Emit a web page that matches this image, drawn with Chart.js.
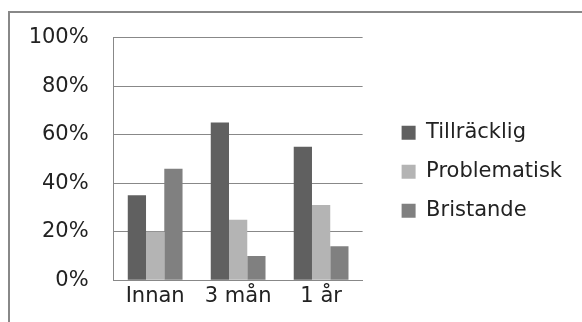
<!DOCTYPE html>
<html>
<head>
<meta charset="utf-8">
<script src="https://cdn.jsdelivr.net/npm/chart.js@4/dist/chart.umd.min.js"></script>
<style>
  html, body { margin: 0; padding: 0; background: #fff; }
  #wrap { position: relative; width: 582px; height: 322px; overflow: hidden; }
  #frame { position: absolute; left: 8px; top: 11px; width: 600px; height: 400px;
           border-top: 2px solid #888; border-left: 2px solid #888; box-sizing: border-box; }
  #c { position: absolute; left: 0; top: 0; }
</style>
</head>
<body>
<div id="wrap">
  <div id="frame"></div>
  <canvas id="c" width="582" height="322"></canvas>
</div>
<script>
const categories = ['Innan', '3 mån', '1 år'];
const tillracklig = [35, 65, 55];
const problematisk = [20, 25, 31];
const bristande = [46, 10, 14];
const yTicks = [0, 20, 40, 60, 80, 100];

const font = "'DejaVu Sans', sans-serif";
const textColor = '#222';

new Chart(document.getElementById('c'), {
  type: 'bar',
  data: {
    labels: categories,
    datasets: [
      { label: 'Tillräcklig', data: tillracklig, backgroundColor: '#606060' },
      { label: 'Problematisk', data: problematisk, backgroundColor: '#b4b4b4' },
      { label: 'Bristande', data: bristande, backgroundColor: '#808080' }
    ]
  },
  options: {
    responsive: false,
    animation: false,
    devicePixelRatio: 1,
    layout: { padding: { left: 22, top: 30, right: 10, bottom: 8.5 } },
    datasets: { bar: { categoryPercentage: 0.66, barPercentage: 1.0 } },
    scales: {
      x: {
        grid: { display: false, drawTicks: false },
        border: { display: true, color: '#888', width: 1 },
        ticks: { color: textColor, font: { family: font, size: 21 }, padding: 4 }
      },
      y: {
        min: 0, max: 100,
        afterBuildTicks: (axis) => { axis.ticks = yTicks.map(v => ({ value: v })); },
        grid: { color: '#888', drawTicks: false },
        border: { display: true, color: '#888', width: 1 },
        ticks: { color: textColor, font: { family: font, size: 21 }, padding: 25,
                 callback: (v) => v + '%' }
      },
      // empty gutter between the plot and the legend
      gutter: {
        axis: 'y', position: 'right', display: true,
        grid: { display: false, drawTicks: false },
        border: { display: false },
        ticks: { display: false },
        afterFit: (axis) => { axis.width = 21; }
      }
    },
    plugins: {
      tooltip: { enabled: false },
      legend: {
        position: 'right',
        maxWidth: 260,
        labels: { color: textColor, font: { family: font, size: 21 },
                  boxWidth: 14, boxHeight: 14, padding: 18 }
      }
    }
  }
});
</script>
</body>
</html>
